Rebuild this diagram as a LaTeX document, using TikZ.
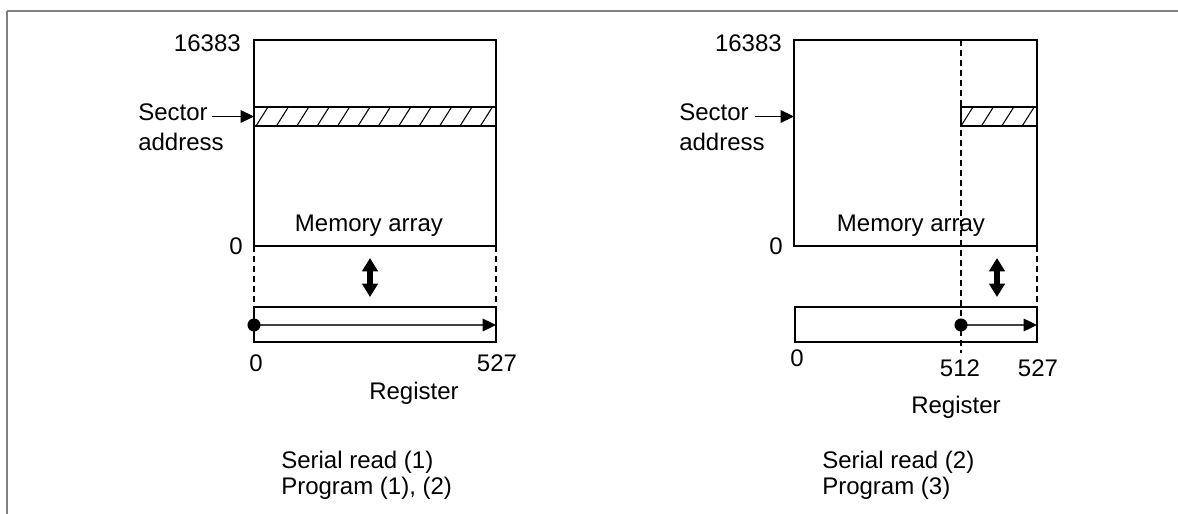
\documentclass[tikz,border=0pt]{standalone}
\usepackage{fontspec}
\setmainfont{Liberation Sans}
\usepackage{tikz}
\usetikzlibrary{arrows.meta}

\tikzset{
    lbl/.style={inner sep=0pt,font=\fontsize{18}{22.5}\selectfont},
    membox/.style={line width=1pt},
    hatchline/.style={line width=0.8pt},
    guide/.style={line width=0.9pt,dash pattern=on 4.5pt off 3pt},
    feed/.style={line width=0.7pt,-{Triangle[length=10pt,width=9.5pt]}},
    bitrun/.style={line width=0.9pt,black!75,-{Triangle[length=10pt,width=9.5pt,black]}},
    xfer/.style={line width=4pt,{Triangle[length=10pt,width=11.5pt]}-{Triangle[length=10pt,width=11.5pt]}}
}

\begin{document}
\begin{tikzpicture}[x=0.75pt,y=-0.75pt]

    \useasboundingbox (0,0) rectangle (1178,514);

    %------------------------------------------------
    % Frame
    %------------------------------------------------

    \draw[black!50,line width=1.5pt] (7,11) -- (1178,11);
    \draw[black!50,line width=1.2pt] (7,11) -- (7,514);

    %------------------------------------------------
    % Left: memory array
    %------------------------------------------------

    \coordinate (mA1) at (254,40);
    \coordinate (mA2) at (496,246);
    \draw[membox] (mA1) rectangle (mA2);

    \begin{scope}
        \clip (254,107) rectangle (496,126);
        \foreach \m in {0,...,12}
            \draw[hatchline] (256+20.4*\m,126) -- ++(12,-19);
    \end{scope}
    \draw[membox] (254,107) rectangle (496,126);
    \coordinate (bandA) at (254,116.5);

    \node[lbl,anchor=east] (topA) at (241,43) {16383};
    \node[lbl,anchor=east] (botA) at (243,246) {0};
    \node[lbl] (memA) at (369,226) {Memory array};

    \node[lbl,anchor=west,align=left] (secA) at (138,127) {Sector\\address};
    \coordinate (secAs) at (212,116.5);
    \draw[feed] (secAs) -- (bandA);

    %------------------------------------------------
    % Left: register
    %------------------------------------------------

    \coordinate (rA1) at (254,307);
    \coordinate (rA2) at (496,342);
    \draw[guide] (254,246) -- (rA1);
    \draw[guide] (496,246) -- (496,307);
    \draw[membox] (rA1) rectangle (rA2);

    \coordinate (xA1) at (370,258);
    \coordinate (xA2) at (370,297);
    \draw[xfer] (xA1) -- (xA2);

    \coordinate (dotA) at (254,325);
    \coordinate (endA) at (496,325);
    \draw[bitrun] (dotA) -- (endA);
    \fill (dotA) circle[radius=4.9pt];

    \node[lbl] (r0A) at (256,363) {0};
    \node[lbl] (r527A) at (497,363) {527};
    \node[lbl] (regA) at (414,393) {Register};

    \node[lbl,anchor=west,align=left,font=\fontsize{18}{19.5}\selectfont]
        (modeA) at (281,475)
        {Serial read (1)\\Program (1), (2)};

    %------------------------------------------------
    % Right: memory array
    %------------------------------------------------

    \coordinate (mB1) at (794,40);
    \coordinate (mB2) at (1037,246);
    \draw[membox] (mB1) rectangle (mB2);

    \begin{scope}
        \clip (961,107) rectangle (1037,126);
        \foreach \m in {0,...,4}
            \draw[hatchline] (961+20.4*\m,126) -- ++(12,-19);
    \end{scope}
    \draw[guide] (961,40) -- (961,353);
    \draw[membox] (961,107) rectangle (1037,126);
    \coordinate (bandB) at (794,116.5);

    \node[lbl,anchor=east] (topB) at (782,43) {16383};
    \node[lbl,anchor=east] (botB) at (783,246) {0};
    \node[lbl] (memB) at (911,226) {Memory array};

    \node[lbl,anchor=west,align=left] (secB) at (679,127) {Sector\\address};
    \coordinate (secBs) at (755,116.5);
    \draw[feed] (secBs) -- (bandB);

    %------------------------------------------------
    % Right: register
    %------------------------------------------------

    \coordinate (rB1) at (795,307);
    \coordinate (rB2) at (1037,342);
    \draw[guide] (1037,246) -- (1037,307);
    \draw[membox] (rB1) rectangle (rB2);

    \coordinate (xB1) at (997,258);
    \coordinate (xB2) at (997,297);
    \draw[xfer] (xB1) -- (xB2);

    \coordinate (dotB) at (961,325);
    \coordinate (endB) at (1037,325);
    \draw[bitrun] (dotB) -- (endB);
    \fill (dotB) circle[radius=4.9pt];

    \node[lbl] (r0B) at (797,358) {0};
    \node[lbl] (r512B) at (960,368) {512};
    \node[lbl] (r527B) at (1038,368) {527};
    \node[lbl] (regB) at (956,407) {Register};

    \node[lbl,anchor=west,align=left,font=\fontsize{18}{19.5}\selectfont]
        (modeB) at (822,475)
        {Serial read (2)\\Program (3)};

\end{tikzpicture}
\end{document}
